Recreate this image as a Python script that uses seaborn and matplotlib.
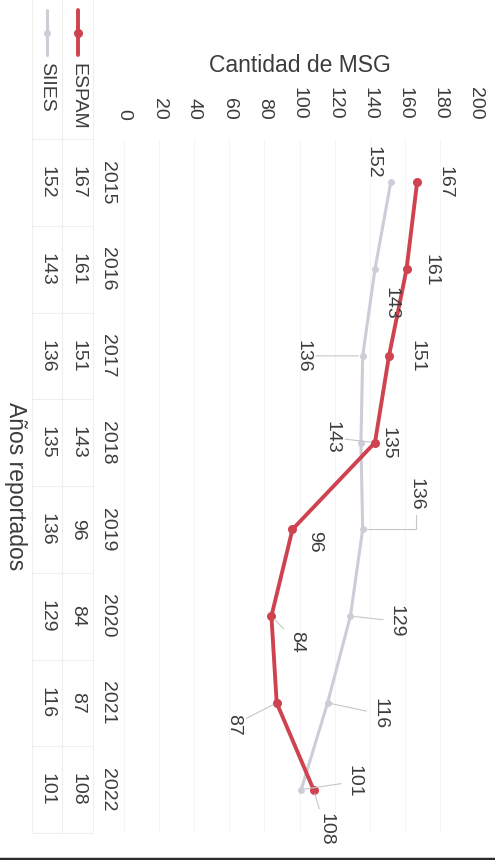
import numpy as np
import pandas as pd
import matplotlib
matplotlib.use("Agg")
import matplotlib.pyplot as plt
import matplotlib.transforms as mtransforms
from matplotlib.lines import Line2D
import seaborn as sns

# ---------------- data ----------------
years = ["2015", "2016", "2017", "2018", "2019", "2020", "2021", "2022"]
espam = [167, 161, 151, 143, 96, 84, 87, 108]
siies = [152, 143, 136, 135, 136, 129, 116, 101]
series_names = ["ESPAM", "SIIES"]
value_ticks = [0, 20, 40, 60, 80, 100, 120, 140, 160, 180, 200]
title_text = "DOCENTES MSG"
value_title = "Cantidad de MSG"
cat_title = "Años reportados"

# ---------------- styles ----------------
RED = "#CF4250"
GRAY = "#CBCDD7"
TXT = "#3c3c3c"
FS = 14
W, H = 495, 860
DPI = 100

# data label offsets in pixels (dx right, dy down) and leader line style
espam_off = [(28, 0), (24, 1), (28, 0), (-43, -5), (22, 12), (25, 26), (-43, 22), (12, 40)]
espam_lead = [None, None, None, "arc3", None, "arc3", "arc3", "arc3"]
siies_off = [(-18, -20), (16, 34), (-60, 0), (27, 1), (53, -35), (46, 5), (52, 11), (53, -8)]
siies_lead = [None, None, "arc3", None, "angle,angleA=90,angleB=0,rad=0", "arc3", "arc3", "arc3"]

sns.set_theme(style="white")
plt.rcParams["font.family"] = ["Liberation Sans", "DejaVu Sans"]

fig = plt.figure(figsize=(W / DPI, H / DPI), dpi=DPI)
fig.patch.set_facecolor("white")

def px_x(x):
    return x / W

def px_y(y):
    return 1 - y / H

# plot area (rotated chart: values run left->right, years top->bottom)
left, right, top, bottom = 124, 475, 139, 833
ax = fig.add_axes([px_x(left), px_y(bottom), (right - left) / W, (bottom - top) / H])

pos = list(range(len(years)))
df = pd.DataFrame({
    "pos": pos + pos,
    "valor": espam + siies,
    "serie": [series_names[0]] * len(years) + [series_names[1]] * len(years),
})

sns.lineplot(data=df[df.serie == "SIIES"], x="valor", y="pos", orient="y", sort=False,
             estimator=None, color=GRAY, linewidth=2.2, marker="o", markersize=5,
             markeredgewidth=0, ax=ax, legend=False, zorder=3)
sns.lineplot(data=df[df.serie == "ESPAM"], x="valor", y="pos", orient="y", sort=False,
             estimator=None, color=RED, linewidth=2.8, marker="o", markersize=6.5,
             markeredgewidth=0, ax=ax, legend=False, zorder=4)

ax.set_xlim(0, 200)
ax.set_ylim(len(years) - 0.5, -0.5)
ax.set_xticks(value_ticks)
ax.set_xticklabels([str(v) for v in value_ticks])
ax.set_yticks([])
ax.xaxis.tick_top()
ax.tick_params(axis="x", top=True, bottom=False, labeltop=True, labelbottom=False,
               labelrotation=270, pad=14, length=0, labelsize=FS, labelcolor=TXT)
for lab in ax.get_xticklabels():
    lab.set_va("bottom")
    lab.set_ha("center")
for s in ax.spines.values():
    s.set_visible(False)
ax.grid(axis="x", color="#f6f6f6", linewidth=0.8)
ax.set_axisbelow(True)

ax.xaxis.set_label_position("top")
ax.set_xlabel(value_title, fontsize=16.5, color=TXT)
ax.xaxis.set_label_coords(0.5, 1 + (top - 66) / (bottom - top))
ax.xaxis.label.set_va("center")

ax.set_ylabel(cat_title, fontsize=16.5, color=TXT, rotation=270)
ax.yaxis.set_label_coords((15 - left) / (right - left), 0.5)
ax.yaxis.label.set_va("center")
ax.yaxis.label.set_ha("center")

# data labels
def add_labels(vals, offs, leads):
    for i, (v, (dx, dy), ld) in enumerate(zip(vals, offs, leads)):
        kw = {}
        if ld:
            kw["arrowprops"] = dict(arrowstyle="-", color="#c6c6c6", lw=0.8,
                                    shrinkA=1, shrinkB=3, connectionstyle=ld)
        ax.annotate(str(v), xy=(v, i), xytext=(dx, -dy), textcoords="offset pixels",
                    rotation=270, ha="center", va="center", fontsize=FS, color=TXT,
                    annotation_clip=False, zorder=5, **kw)

add_labels(espam, espam_off, espam_lead)
add_labels(siies, siies_off, siies_lead)

# data table with legend keys (left of plot)
trans = mtransforms.blended_transform_factory(fig.transFigure, ax.transData)
col_year, col_espam, col_siies = 108, 78, 47
for i, yr in enumerate(years):
    fig.text(px_x(col_year), i, yr, transform=trans, rotation=270, ha="center",
             va="center", fontsize=FS, color=TXT)
    fig.text(px_x(col_espam), i, str(espam[i]), transform=trans, rotation=270,
             ha="center", va="center", fontsize=FS, color=TXT)
    fig.text(px_x(col_siies), i, str(siies[i]), transform=trans, rotation=270,
             ha="center", va="center", fontsize=FS, color=TXT)

grid_c = "#efefef"
for xx in (32, 62, 93):
    fig.add_artist(Line2D([px_x(xx)] * 2, [px_y(0), px_y(bottom)], color=grid_c, lw=0.8))
for b in np.arange(-0.5, len(years), 1.0):
    fig.add_artist(Line2D([px_x(32), px_x(93)], [b, b], transform=trans, color=grid_c, lw=0.8))

# legend keys
for xx, col, lw, ms, name, ty in ((col_espam, RED, 2.8, 6.5, series_names[0], 96),
                                   (col_siies, GRAY, 2.2, 5, series_names[1], 87)):
    fig.add_artist(Line2D([px_x(xx)] * 2, [px_y(10), px_y(55)], color=col, lw=lw))
    fig.add_artist(Line2D([px_x(xx)], [px_y(33)], color=col, marker="o", markersize=ms,
                          markeredgewidth=0))
    fig.text(px_x(xx), px_y(ty), name, rotation=270, ha="center", va="center",
             fontsize=FS, color=TXT)

# title (partly cut off at the right edge, as in the reference)
fig.text(px_x(502), px_y(413), title_text, rotation=270, ha="center", va="center",
         fontsize=23, fontweight="bold", color="#333333")

# dark edge line at bottom
fig.add_artist(Line2D([0, 1], [px_y(858.5)] * 2, color="#2b2b2b", lw=2.5))

fig.savefig("out.png", dpi=DPI, facecolor="white")
